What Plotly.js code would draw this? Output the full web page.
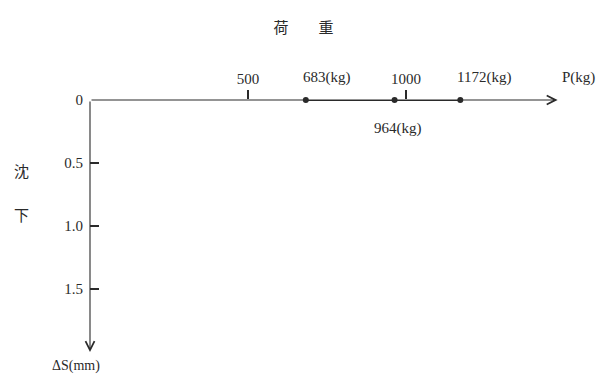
<!DOCTYPE html>
<html>
<head>
<meta charset="utf-8">
<script src="https://cdn.plot.ly/plotly-3.0.1.min.js"></script>
<style>
  body { margin: 0; background: #fff; }
  #chart { width: 607px; height: 376px; }
</style>
</head>
<body>
<div id="chart"></div>
<script>
// load test points (settlement stays at 0)
var loads = [683, 964, 1172];
var settle = [0, 0, 0];
var pointLabels = ['683(kg)', '964(kg)', '1172(kg)'];
var labelAbove = [true, false, true];

var xTicks = [500, 1000];
var yTicks = [0, 0.5, 1.0, 1.5];
var yTickText = ['0', '0.5', '1.0', '1.5'];

var xEnd = 1480;   // arrow end of P axis
var yEnd = 2.0;    // arrow end of settlement axis

var ink = '#2a2a2a';
var serif = '"Liberation Serif", "DejaVu Serif", serif';
var cjk = '"Noto Sans CJK JP", "Noto Sans CJK SC", sans-serif';

var trace = {
  type: 'scatter',
  mode: 'lines+markers',
  x: loads,
  y: settle,
  line: { color: ink, width: 2.2 },
  marker: { color: ink, size: 6 },
  cliponaxis: false,
  hoverinfo: 'skip'
};

var annotations = [];

// axis arrows
annotations.push({
  x: xEnd, y: 0, ax: 0, ay: 0, xref: 'x', yref: 'y', axref: 'x', ayref: 'y',
  text: '', showarrow: true, arrowhead: 5, arrowsize: 1.6, arrowwidth: 1.1, arrowcolor: ink
});
annotations.push({
  x: 0, y: yEnd, ax: 0, ay: 0, xref: 'x', yref: 'y', axref: 'x', ayref: 'y',
  text: '', showarrow: true, arrowhead: 5, arrowsize: 1.6, arrowwidth: 1.1, arrowcolor: ink
});

// point labels
for (var i = 0; i < loads.length; i++) {
  annotations.push({
    x: loads[i], y: settle[i], xref: 'x', yref: 'y',
    text: pointLabels[i], showarrow: false,
    xanchor: labelAbove[i] ? 'left' : 'center',
    yanchor: labelAbove[i] ? 'bottom' : 'top',
    xshift: labelAbove[i] ? -5 : 3,
    yshift: labelAbove[i] ? 12 : -18,
    font: { family: serif, size: 15, color: ink }
  });
}

// axis names
annotations.push({
  x: xEnd, y: 0, xref: 'x', yref: 'y', text: 'P(kg)', showarrow: false,
  xanchor: 'left', yanchor: 'bottom', xshift: 2, yshift: 12,
  font: { family: serif, size: 15, color: ink }
});
annotations.push({
  x: 0, y: yEnd, xref: 'x', yref: 'y', text: 'ΔS(mm)', showarrow: false,
  xanchor: 'center', yanchor: 'top', xshift: -14, yshift: -4,
  font: { family: serif, size: 14, color: ink }
});
annotations.push({
  x: -0.137, y: 0.73, xref: 'paper', yref: 'paper', text: '沈', showarrow: false,
  xanchor: 'center', yanchor: 'middle',
  font: { family: cjk, size: 15, color: ink }
});
annotations.push({
  x: -0.137, y: 0.558, xref: 'paper', yref: 'paper', text: '下', showarrow: false,
  xanchor: 'center', yanchor: 'middle',
  font: { family: cjk, size: 15, color: ink }
});

var layout = {
  width: 607,
  height: 376,
  paper_bgcolor: '#ffffff',
  plot_bgcolor: '#ffffff',
  showlegend: false,
  margin: { l: 90, r: 20, t: 100, b: 16 },
  title: {
    text: '荷　　重',
    x: 0.5, xanchor: 'center', xref: 'container',
    y: 0.925, yanchor: 'middle',
    font: { family: cjk, size: 15, color: ink }
  },
  xaxis: {
    range: [0, 1573],
    side: 'top',
    showgrid: false, zeroline: false, showline: false,
    tickmode: 'array', tickvals: xTicks, ticktext: xTicks.map(String),
    ticks: 'outside', ticklen: 9, tickwidth: 1.1, tickcolor: ink,
    tickfont: { family: serif, size: 15, color: ink },
    fixedrange: true
  },
  yaxis: {
    range: [2.063, 0],
    showgrid: false, zeroline: false, showline: false,
    tickmode: 'array', tickvals: yTicks, ticktext: yTickText,
    ticks: 'inside', ticklen: 9, tickwidth: 1.1, tickcolor: ink,
    ticklabelstandoff: 6,
    tickfont: { family: serif, size: 15, color: ink },
    fixedrange: true
  },
  annotations: annotations
};

Plotly.newPlot('chart', [trace], layout, { displayModeBar: false, staticPlot: true });
</script>
</body>
</html>
